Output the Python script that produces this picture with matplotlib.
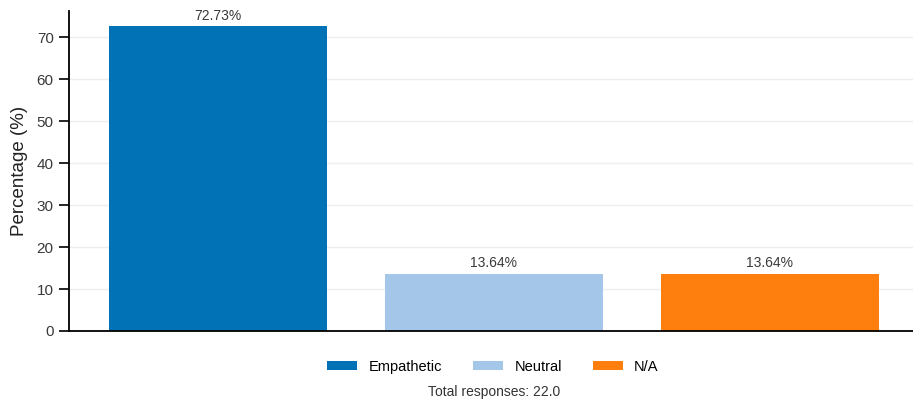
import matplotlib
matplotlib.use("Agg")
import matplotlib.pyplot as plt
from matplotlib.patches import Patch

plt.rcParams['font.family'] = ['Liberation Sans', 'DejaVu Sans']

categories = ["Empathetic", "Neutral", "N/A"]
percentages = [72.73, 13.64, 13.64]
colors = ["#0072b5", "#a3c6e9", "#ff7f0e"]
total_responses = 22.0

fig = plt.figure(figsize=(9.13, 4.05), dpi=100)
ax = fig.add_axes([69 / 913, 1 - 331 / 405, (913 - 69) / 913, (331 - 11) / 405])

x = list(range(len(categories)))
bars = ax.bar(x, percentages, width=0.79, color=colors, zorder=2)
for b, v in zip(bars, percentages):
    ax.text(b.get_x() + b.get_width() / 2, v + 0.8, f"{v:.2f}%",
            ha="center", va="bottom", fontsize=10, color="#3a3a3a")

ax.set_xlim(-0.54, 2.52)
ax.set_ylim(0, 76.3)
ax.set_yticks(range(0, 80, 10))
ax.set_xticks([])
ax.grid(axis="y", color="#eeeeee", linewidth=1, zorder=0)
for s in ("top", "right"):
    ax.spines[s].set_visible(False)
ax.spines["left"].set_linewidth(1.3)
ax.spines["bottom"].set_linewidth(1.3)
ax.tick_params(axis="y", labelsize=11, labelcolor="#3a3a3a", color="black",
               length=7, width=1.2, pad=4)
ax.set_ylabel("Percentage (%)", fontsize=13.5, color="#222222", labelpad=6)

handles = [Patch(facecolor=c, label=l) for c, l in zip(colors, categories)]
fig.legend(handles=handles, loc="center", bbox_to_anchor=(493 / 913, 1 - 367 / 405),
           ncol=3, frameon=False, fontsize=10.5, handlelength=2.05, handleheight=0.55,
           columnspacing=2.1, handletextpad=0.8)
fig.text(494 / 913, 1 - 392 / 405, f"Total responses: {total_responses}",
         ha="center", va="center", fontsize=10, color="#333333")

fig.savefig("out.png", dpi=100)
